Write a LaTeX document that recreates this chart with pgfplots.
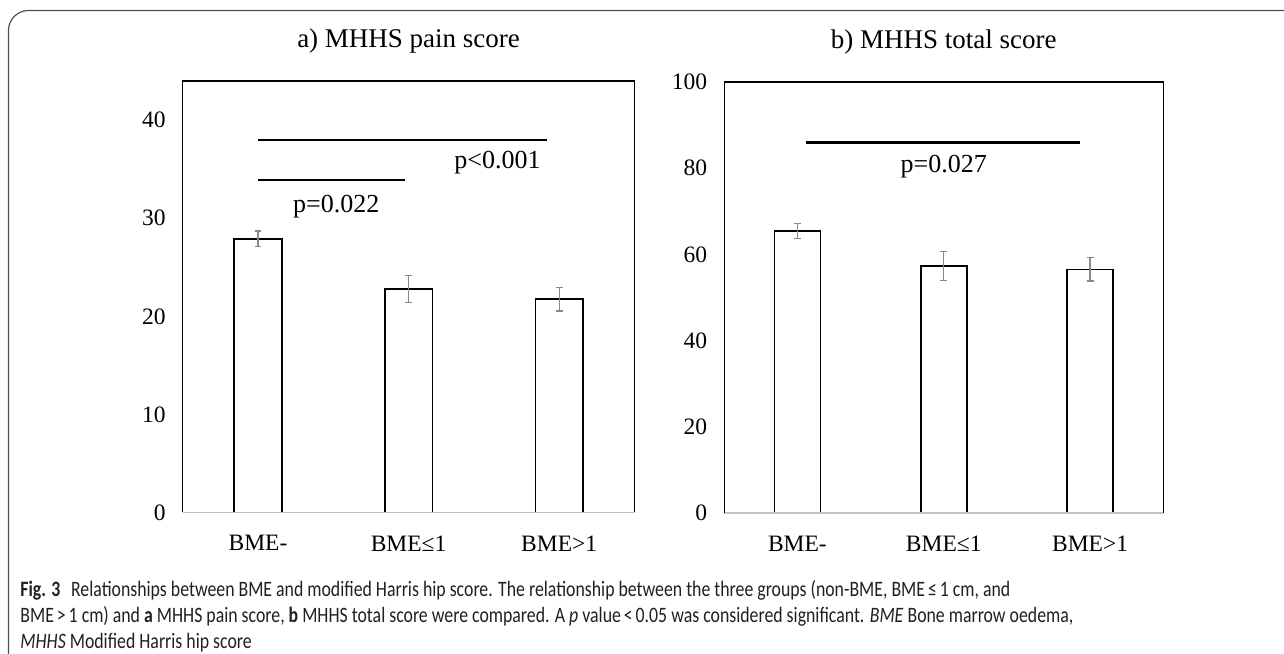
\documentclass[border=0pt]{standalone}
\usepackage{fontspec}
\setmainfont{Liberation Serif}
\newfontfamily\capfont{Carlito}
\usepackage{graphicx}
\usepackage{pgfplots}
\pgfplotsset{compat=1.18}
\definecolor{errgray}{RGB}{137,137,137}
\definecolor{axgray}{RGB}{195,195,195}
\definecolor{framegray}{RGB}{80,80,80}
\definecolor{captext}{RGB}{35,31,32}

\pgfplotsset{
  myax/.style={
    scale only axis, anchor=south west, clip=false,
    xmin=-0.5, xmax=2.5, ymin=0,
    axis line style={draw=none},
    xtick={0,1,2}, xticklabels={BME-, BME≤1, BME>1},
    major tick length=0pt,
    tick label style={font=\fontsize{11.75}{14}\selectfont},
    /pgf/number format/assume math mode=true,
    yticklabel style={xshift=-5pt},
    xticklabel style={yshift=-8pt},
  },
  mybar/.style={
    ybar, fill=white, draw=black, line width=0.8pt,
    error bars/.cd, y dir=both, y explicit,
    error bar style={errgray, line width=0.65pt},
    error mark options={rotate=90, errgray, line width=0.65pt, mark size=1.7pt},
  },
}

\newcommand\capA{\textbf{Fig. 3}\hspace{0.6em}Relationships between BME and modified Harris hip score. The relationship between the three groups (non-BME, BME\,≤\,1 cm, and}
\newcommand\capB{BME\,>\,1 cm) and \textbf{a} MHHS pain score, \textbf{b} MHHS total score were compared. A \textit{p} value\,<\,0.05 was considered significant. \textit{BME} Bone marrow oedema,}
\newcommand\capC{\textit{MHHS} Modified Harris hip score}
\newsavebox\capbox

\begin{document}%
\sbox\capbox{\capfont\fontsize{11}{13}\selectfont\capA}%
\pgfmathsetmacro\capscale{495pt/\wd\capbox}%
\begin{tikzpicture}[x=0.5pt,y=0.5pt]
\path[use as bounding box] (0,0) rectangle (1284,653);
\begin{scope}
\clip (0,0) rectangle (1284,653);
\draw[framegray, line width=0.6pt, rounded corners=10pt] (8.5,-30) -- (8.5,642.5) -- (1330,642.5);
\end{scope}

% ---------- a) pain score
\begin{axis}[myax, at={(91.35pt,70.25pt)}, width=225.9pt, height=215.75pt,
  ymax=44, ytick={0,10,20,30,40}]
\addplot[bar width=23.85pt, mybar] coordinates {
  (0,27.9) +- (0,0.8)
  (1,22.8) +- (0,1.36)
  (2,21.75) +- (0,1.2)
};
\addplot[black, line width=1.2pt, mark=none] coordinates {(0,38) (1.92,38)};
\addplot[black, line width=1.2pt, mark=none] coordinates {(0,33.9) (0.975,33.9)};
\node[font=\fontsize{13}{15}\selectfont] at (axis cs:1.59,35.7) {p<0.001};
\node[font=\fontsize{13}{15}\selectfont] at (axis cs:0.52,31.2) {p=0.022};
\draw[axgray, line width=0.8pt] (rel axis cs:0,0) -- (rel axis cs:1,0);
\draw[black, line width=0.65pt] (rel axis cs:0,0) -- (rel axis cs:0,1) -- (rel axis cs:1,1) -- (rel axis cs:1,0);
\node[font=\fontsize{13.5}{16}\selectfont] at (rel axis cs:0.5,1) [yshift=20pt] {a) MHHS pain score};
\end{axis}

% ---------- b) total score
\begin{axis}[myax, at={(362.1pt,70pt)}, width=219.55pt, height=215.5pt,
  ymax=100, ytick={0,20,40,60,80,100}]
\addplot[bar width=23pt, mybar] coordinates {
  (0,65.4) +- (0,1.7)
  (1,57.3) +- (0,3.35)
  (2,56.5) +- (0,2.7)
};
\addplot[black, line width=1.2pt, mark=none] coordinates {(0.06,86) (1.93,86)};
\node[font=\fontsize{13}{15}\selectfont] at (axis cs:1.0,80.3) {p=0.027};
\draw[axgray, line width=0.8pt] (rel axis cs:0,0) -- (rel axis cs:1,0);
\draw[black, line width=0.65pt] (rel axis cs:0,0) -- (rel axis cs:0,1) -- (rel axis cs:1,1) -- (rel axis cs:1,0);
\node[font=\fontsize{13.5}{16}\selectfont] at (rel axis cs:0.5,1) [yshift=20pt] {b) MHHS total score};
\end{axis}

% ---------- caption
\begin{scope}[every node/.style={anchor=mid west, inner sep=0pt, text=captext, font=\capfont\fontsize{11}{13}\selectfont}]
\node at (20,61) {\scalebox{\capscale}[1]{\capA}};
\node at (20,35) {\scalebox{\capscale}[1]{\capB}};
\node at (20,9.5) {\scalebox{\capscale}[1]{\capC}};
\end{scope}
\end{tikzpicture}%
\end{document}
